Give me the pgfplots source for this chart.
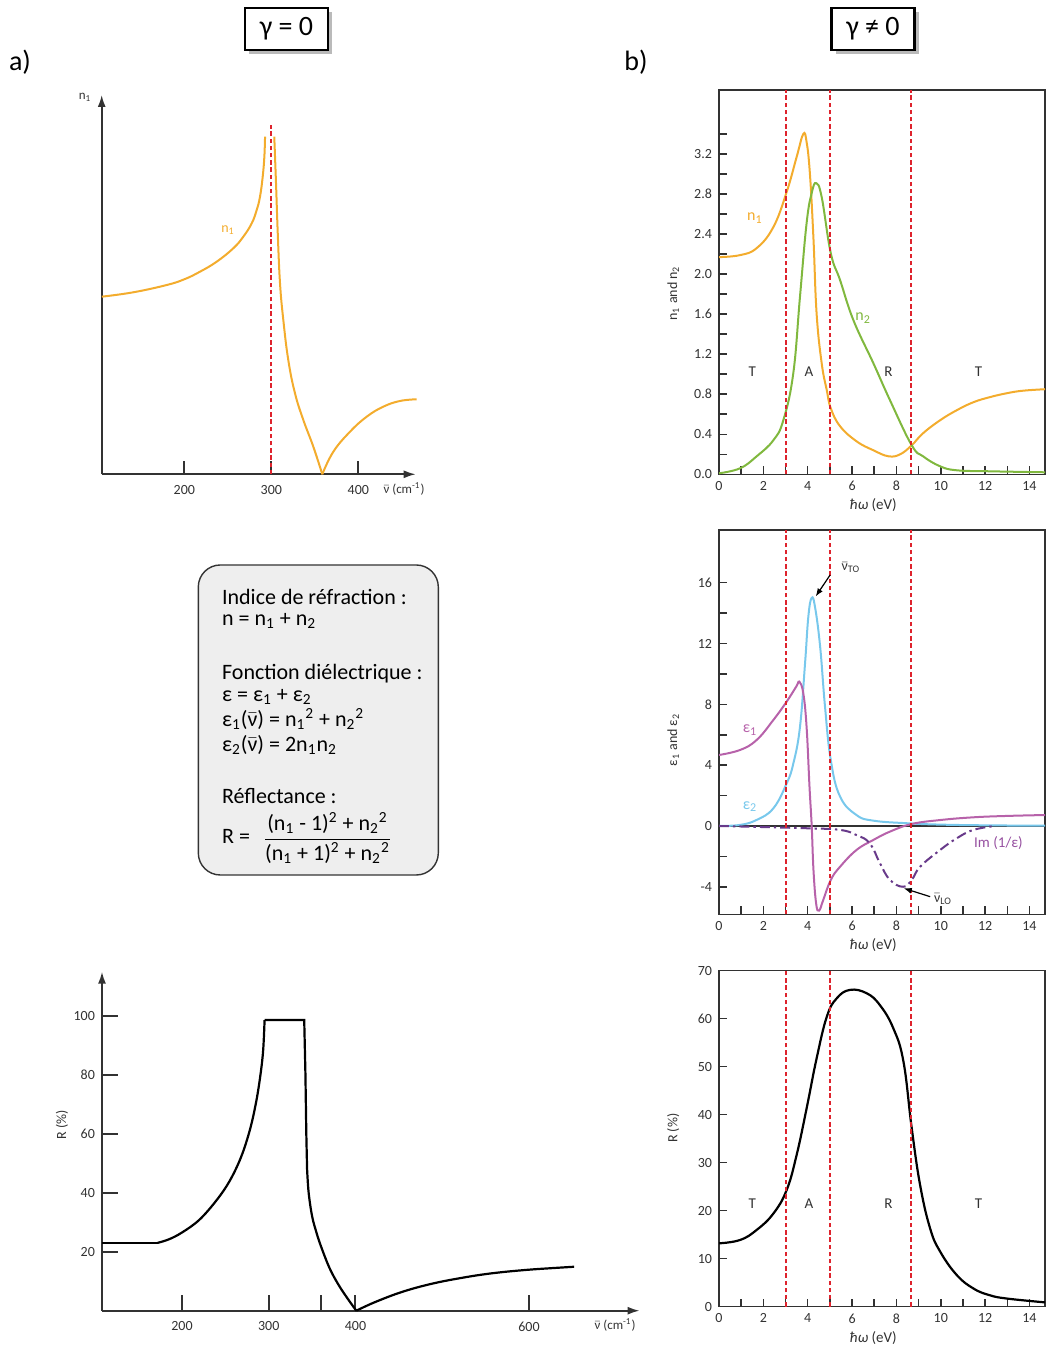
\documentclass[border=0pt]{standalone}
\usepackage{pgfplots}
\pgfplotsset{compat=1.18}
\usepackage{fontspec}
\setmainfont{Carlito}
\usetikzlibrary{arrows.meta,shadows}

\definecolor{nOne}{RGB}{243,172,45}
\definecolor{nTwo}{RGB}{128,184,62}
\definecolor{redd}{RGB}{222,35,45}
\definecolor{epsOne}{RGB}{183,98,170}
\definecolor{epsTwo}{RGB}{120,200,236}
\definecolor{imcol}{RGB}{104,58,138}
\definecolor{imlab}{RGB}{150,80,160}
\definecolor{axgray}{RGB}{50,50,50}
\definecolor{boxgray}{RGB}{238,238,238}

\newcommand{\nub}{\ensuremath{\bar{\mbox{ν}}}}
\newcommand{\sz}[1]{\fontsize{#1}{#1}\selectfont}

\pgfplotsset{
  every axis/.append style={
    scale only axis, anchor=south west,
    /pgf/number format/assume math mode=true,
    tick label style={font=\sz{7}, text=axgray},
  },
  rpanel/.style={
    width=163pt, xmin=0, xmax=14.7,
    xtick={0,2,...,14}, minor xtick={1,3,...,13},
    tick pos=left, tick align=inside,
    major tick length=4pt, minor tick length=4pt,
    axis line style={draw=axgray, line width=0.75pt},
    tick style={draw=axgray, line width=0.75pt},
  },
}
\tikzset{
  vline/.style={redd, line width=1pt, dash pattern=on 2.2pt off 1.4pt},
  curve/.style={line width=1pt, smooth, tension=0.7},
  reg/.style={font=\sz{7.5}, text=axgray},
}

\begin{document}
\begin{tikzpicture}
\path[use as bounding box] (0,0) rectangle (524pt,674.5pt);

% ---------- a) top : n1, gamma = 0
\begin{axis}[
  at={(50.85pt,437.35pt)}, width=157pt, height=189.65pt,
  xmin=105, xmax=466, ymin=0, ymax=3.793,
  axis lines=left, clip=false,
  axis line style={draw=axgray, line width=0.9pt, -{Latex[length=6pt,width=4pt]}},
  xtick={200,300,400}, ytick=\empty,
  tick align=inside, major tick length=6.5pt,
  tick style={draw=axgray, line width=1pt},
  xticklabel style={yshift=-2pt},
]
\addplot[nOne, curve] coordinates {
  (105.1,1.776) (141.4,1.82) (179.8,1.893) (200,1.95) (218,2.026) (237.2,2.126)
  (256.3,2.26) (267.8,2.376) (277.5,2.51) (283.2,2.643) (287,2.776) (290.1,2.976)
  (292,3.176) (292.8,3.376)};
\addplot[nOne, curve] coordinates {
  (303.4,3.376) (305.4,2.91) (307.4,2.41) (310,1.91) (313.8,1.543) (319.5,1.143)
  (327.2,0.81) (336.8,0.543) (348.3,0.276) (358.6,0)};
\addplot[nOne, curve] coordinates {
  (358.6,0) (371.3,0.226) (390.5,0.426) (409.7,0.576) (428.7,0.676) (447.9,0.733) (467,0.75)};
\addplot[vline] coordinates {(300,0) (300,3.49)};
\end{axis}

% ---------- a) bottom : R, gamma = 0
\begin{axis}[
  at={(51pt,19.15pt)}, width=268.8pt, height=169.5pt,
  xmin=107.8, xmax=727.5, ymin=0, ymax=114.9,
  axis lines=left, clip=false,
  axis line style={draw=axgray, line width=0.9pt, -{Latex[length=6pt,width=4pt]}},
  xtick={200,300,360,400,600}, xticklabels={200,300,,400,600},
  ytick={20,40,...,100},
  tick align=inside, major tick length=8pt,
  tick style={draw=axgray, line width=1pt},
  xticklabel style={yshift=-2pt},
]
\addplot[black, line width=1.1pt] coordinates {(107.8,23) (172,23)};
\addplot[black, line width=1.1pt, smooth, tension=0.6] coordinates {
  (172,23) (185,24.2) (200,26.5) (220,30.8) (240,37.5) (255,44) (268,52)
  (278,61) (285,70) (290,79) (293.5,88) (295.2,98.5)};
\addplot[black, line width=1.1pt] coordinates {(295.2,98.5) (340.9,98.5) (342.3,80) (343.3,60) (344.2,48)};
\addplot[black, line width=1.1pt, smooth, tension=0.6] coordinates {
  (344.2,48) (346,40) (350,32) (355,26.5) (360,22) (370,14.5) (380,9) (390,4.5) (400.9,0)};
\addplot[black, line width=1.1pt, smooth, tension=0.6] coordinates {
  (400.9,0) (420,2.6) (446,5.6) (470,7.8) (495,9.6) (520,11) (545,12.2) (570,13.1)
  (600,13.9) (625,14.4) (652,14.9)};
\end{axis}

% ---------- b) top : n1, n2
\begin{axis}[rpanel,
  at={(359.5pt,437.35pt)}, height=192.15pt,
  ymin=0, ymax=3.84,
  ytick={0,0.4,...,3.2}, minor ytick={0.2,0.6,...,3.4},
  yticklabel style={/pgf/number format/.cd, fixed, fixed zerofill, precision=1},
]
\addplot[nOne, curve] coordinates {
  (0,2.17) (0.95,2.19) (1.7,2.26) (2.45,2.47) (3.05,2.82) (3.5,3.17) (3.8,3.40)
  (3.95,3.32) (4.1,3.0) (4.26,2.35) (4.4,1.61) (4.63,1.11) (4.86,0.84) (5.04,0.66)
  (5.46,0.48) (6.2,0.33) (6.96,0.24) (7.64,0.18) (8.17,0.20) (8.69,0.29) (9.2,0.41)
  (9.97,0.54) (10.72,0.64) (11.47,0.72) (12.2,0.77) (12.98,0.81) (13.7,0.835) (14.7,0.85)};
\addplot[nTwo, curve] coordinates {
  (0,0.01) (0.95,0.06) (1.7,0.18) (2.45,0.34) (2.9,0.54) (3.35,1.01) (3.65,1.77)
  (3.95,2.51) (4.18,2.81) (4.38,2.91) (4.63,2.77) (5.04,2.21) (5.46,1.94) (6.06,1.54)
  (6.96,1.11) (7.71,0.74) (8.69,0.29) (9.2,0.18) (9.97,0.08) (10.72,0.04) (12.2,0.03) (14.7,0.02)};
\addplot[vline] coordinates {(3,0) (3,3.84)};
\addplot[vline] coordinates {(5,0) (5,3.84)};
\addplot[vline] coordinates {(8.65,0) (8.65,3.84)};
\node[nOne, font=\sz{8}] at (axis cs:1.62,2.56) {n\textsubscript{1}};
\node[nTwo, font=\sz{8}] at (axis cs:6.5,1.56) {n\textsubscript{2}};
\node[reg] at (axis cs:1.5,1.03) {T};
\node[reg] at (axis cs:4.06,1.03) {A};
\node[reg] at (axis cs:7.64,1.03) {R};
\node[reg] at (axis cs:11.7,1.03) {T};
\end{axis}

% ---------- b) middle : eps1, eps2, Im(1/eps)
\begin{axis}[rpanel,
  at={(359.5pt,217.35pt)}, height=192.15pt,
  ymin=-5.81, ymax=19.47,
  ytick={-4,0,...,16}, minor ytick={-2,2,...,14},
]
\addplot[axgray, line width=0.8pt] coordinates {(0,0) (14.7,0)};
\addplot[epsTwo, curve] coordinates {
  (0,0) (0.95,0.07) (1.7,0.4) (2.45,1.16) (3.05,2.8) (3.35,4.1) (3.65,6.5)
  (3.88,10.7) (4.03,13.8) (4.18,15.0) (4.33,14.4) (4.56,11.8) (4.78,7.85) (5.04,4.34)
  (5.46,1.93) (6.2,0.72) (6.96,0.35) (8.47,0.18) (9.97,0.09) (12.2,0.04) (14.7,0.02)};
\addplot[epsOne, curve] coordinates {
  (0,4.67) (0.95,5.0) (1.7,5.66) (2.45,6.97) (3.05,8.18) (3.5,9.21) (3.62,9.5)
  (3.8,8.73) (3.95,6.5) (4.08,2.6) (4.18,0) (4.26,-2.9) (4.38,-5.1) (4.51,-5.57)
  (4.7,-4.87) (5.04,-3.55) (5.46,-2.68) (6.2,-1.58) (6.96,-0.92) (7.71,-0.37)
  (8.69,0.13) (9.97,0.39) (11.47,0.57) (12.98,0.66) (14.7,0.72)};
\addplot[imcol, line width=1pt, smooth, tension=0.7, dash pattern=on 5pt off 2pt on 1.2pt off 2pt] coordinates {
  (0,0) (3.95,-0.15) (5.46,-0.26) (6.2,-0.6) (6.8,-1.14) (7.26,-2.46) (7.71,-3.55)
  (8.3,-4.0) (8.69,-3.55) (9.07,-2.68) (9.97,-1.58) (10.72,-0.81) (11.47,-0.26) (12.45,0)};
\addplot[vline] coordinates {(3,-5.81) (3,19.47)};
\addplot[vline] coordinates {(5,-5.81) (5,19.47)};
\addplot[vline] coordinates {(8.65,-5.81) (8.65,19.47)};
\draw[-{Latex[length=4pt,width=3pt]}, line width=0.6pt] (axis cs:5.01,16.51) -- (axis cs:4.36,15.1);
\node[font=\sz{7}, text=axgray] at (axis cs:5.95,17.0) {\nub\textsubscript{TO}};
\draw[-{Latex[length=4pt,width=3pt]}, line width=0.6pt] (axis cs:9.52,-4.65) -- (axis cs:8.33,-4.1);
\node[font=\sz{7}, text=axgray] at (axis cs:10.1,-4.8) {\nub\textsubscript{LO}};
\node[epsOne, font=\sz{8}] at (axis cs:1.4,6.3) {ε\textsubscript{1}};
\node[epsTwo, font=\sz{8}] at (axis cs:1.4,1.27) {ε\textsubscript{2}};
\node[imlab, font=\sz{7.5}] at (axis cs:12.6,-1.12) {Im (1/ε)};
\end{axis}

% ---------- b) bottom : R
\begin{axis}[rpanel,
  at={(359.5pt,21.15pt)}, height=168pt,
  ymin=0, ymax=70, ytick={0,10,...,70},
]
\addplot[black, line width=1.1pt, smooth, tension=0.7] coordinates {
  (0,13.2) (0.95,13.9) (1.7,16.0) (2.45,19.4) (3.05,24.3) (3.5,31.6) (3.95,41.3)
  (4.4,51.7) (4.86,60.4) (5.3,64.2) (5.9,66.0) (6.66,65.3) (7.26,62.8) (7.86,58.0)
  (8.32,51.0) (8.69,37.2) (9.07,25.3) (9.52,16.3) (9.97,11.5) (10.72,6.6) (11.47,3.8)
  (12.2,2.4) (12.98,1.7) (14.7,0.9)};
\addplot[vline] coordinates {(3,0) (3,70)};
\addplot[vline] coordinates {(5,0) (5,70)};
\addplot[vline] coordinates {(8.65,0) (8.65,70)};
\node[reg] at (axis cs:1.5,21.5) {T};
\node[reg] at (axis cs:4.06,21.5) {A};
\node[reg] at (axis cs:7.64,21.5) {R};
\node[reg] at (axis cs:11.7,21.5) {T};
\end{axis}

% ---------- titles and labels
\node[font=\sz{14}] at (10pt,643.5pt) {a)};
\node[font=\sz{14}] at (318pt,643.5pt) {b)};
\node[draw, line width=1.1pt, fill=white, minimum width=41.5pt, minimum height=21pt, font=\sz{14},
  drop shadow={shadow xshift=2pt, shadow yshift=-2pt, fill=black!45, opacity=0.6}]
  at (143.25pt,660pt) {γ = 0};
\node[draw, line width=1.1pt, fill=white, minimum width=41.5pt, minimum height=21pt, font=\sz{14},
  drop shadow={shadow xshift=2pt, shadow yshift=-2pt, fill=black!45, opacity=0.6}]
  at (436.5pt,660pt) {γ ≠ 0};

\node[font=\sz{6.5}, text=axgray] at (42.5pt,626pt) {n\textsubscript{1}};
\node[nOne, font=\sz{7}] at (114pt,559.5pt) {n\textsubscript{1}};
\node[font=\sz{6.5}, text=axgray] at (202pt,430pt) {\nub\ (cm\textsuperscript{-1})};
\node[font=\sz{6.5}, text=axgray] at (307.5pt,12pt) {\nub\ (cm\textsuperscript{-1})};
\node[font=\sz{7}, text=axgray, rotate=90] at (31pt,112pt) {R (\%)};

\node[font=\sz{7.5}, text=axgray] at (436.65pt,422pt) {\textit{ħω} (eV)};
\node[font=\sz{7.5}, text=axgray] at (436.65pt,202pt) {\textit{ħω} (eV)};
\node[font=\sz{7.5}, text=axgray] at (436.65pt,5.35pt) {\textit{ħω} (eV)};
\node[font=\sz{7}, text=axgray, rotate=90] at (336.65pt,527.85pt) {n\textsubscript{1} and n\textsubscript{2}};
\node[font=\sz{7}, text=axgray, rotate=90] at (336.65pt,304.5pt) {ε\textsubscript{1} and ε\textsubscript{2}};
\node[font=\sz{7}, text=axgray, rotate=90] at (336.65pt,110.35pt) {R (\%)};

% ---------- info box
\draw[rounded corners=11pt, fill=boxgray, draw=black!80, line width=0.7pt]
  (99.15pt,237pt) rectangle (219.15pt,392pt);
\begin{scope}[every node/.style={anchor=base west, inner sep=0pt, font=\sz{11}}]
\node at (110.85pt,372.35pt) {Indice de réfraction :};
\node at (110.85pt,361.65pt) {n = n\textsubscript{1} + n\textsubscript{2}};
\node at (110.85pt,334.5pt) {Fonction diélectrique :};
\node at (110.85pt,323.65pt) {ε = ε\textsubscript{1} + ε\textsubscript{2}};
\node at (110.85pt,311.15pt) {ε\textsubscript{1}(\nub) = n\textsubscript{1}\textsuperscript{2} + n\textsubscript{2}\textsuperscript{2}};
\node at (110.85pt,298.65pt) {ε\textsubscript{2}(\nub) = 2n\textsubscript{1}n\textsubscript{2}};
\node at (110.85pt,272.85pt) {Réflectance :};
\node at (110.85pt,252.85pt) {R =};
\end{scope}
\node[font=\sz{11}, inner sep=0pt] at (163.75pt,255.5pt)
  {$\displaystyle\frac{\mbox{(n\textsubscript{1} - 1)\textsuperscript{2} + n\textsubscript{2}\textsuperscript{2}}}{\mbox{(n\textsubscript{1} + 1)\textsuperscript{2} + n\textsubscript{2}\textsuperscript{2}}}$};
\end{tikzpicture}
\end{document}
